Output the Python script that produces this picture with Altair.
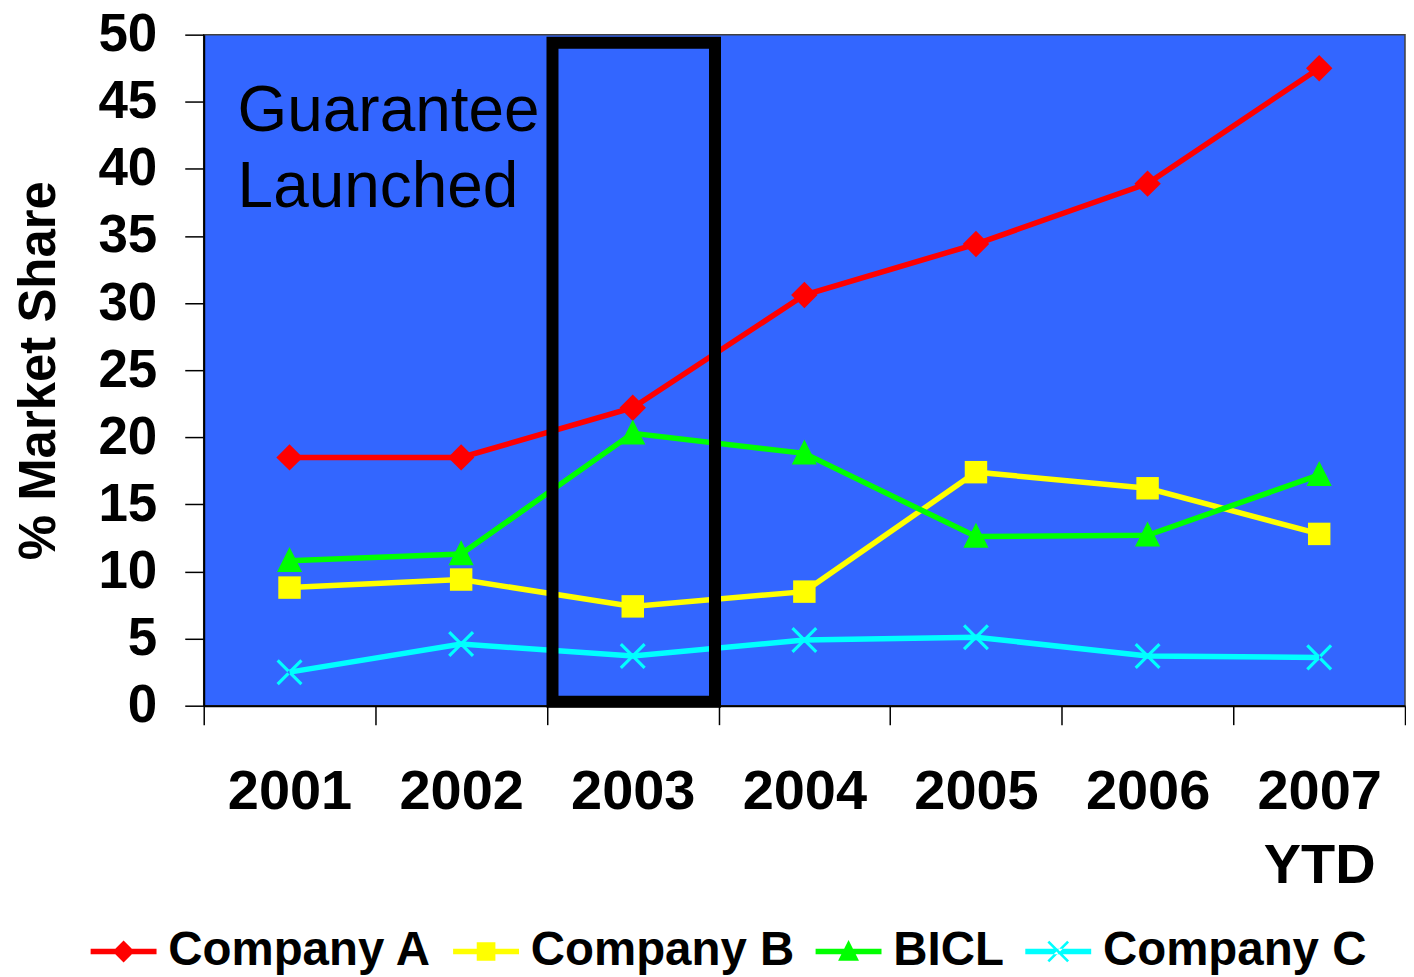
import altair as alt
import pandas as pd

# ---- data ----
years = ["2001", "2002", "2003", "2004", "2005", "2006", "2007 YTD"]
series_names = ["Company A", "Company B", "BICL", "Company C"]
company_a = [18.5, 18.5, 22.2, 30.6, 34.4, 38.9, 47.5]
company_b = [8.8, 9.4, 7.4, 8.5, 17.4, 16.2, 12.8]
bicl = [10.8, 11.3, 20.3, 18.8, 12.6, 12.7, 17.2]
company_c = [2.5, 4.6, 3.7, 4.9, 5.1, 3.7, 3.6]

box_year = ["2003"]
box_top = [49.4]
box_bottom = [0.3]

note_year = ["2001"]
note_value = [42.8]
note_text = ["Guarantee\nLaunched"]

# ---- styles ----
colors = ["#FF0000", "#FFFF00", "#00FF00", "#00FFFF"]
FONT = "Liberation Sans"
BG = "#3366FF"

DIAMOND = "M0,-1L1,0L0,1L-1,0Z"
SQUARE = "M-0.85,-0.85L0.85,-0.85L0.85,0.85L-0.85,0.85Z"
TRIANGLE = "M0,-1.05L0.95,0.85L-0.95,0.85Z"
XMARK = ("M-0.815,-0.985L0.985,0.815L0.815,0.985L-0.985,-0.815Z"
         "M-0.815,0.985L0.985,-0.815L0.815,-0.985L-0.985,0.815Z")
BAR = "M-3,-0.25L3,-0.25L3,0.25L-3,0.25Z"
marker_paths = [DIAMOND, SQUARE, TRIANGLE, XMARK]
legend_paths = [BAR + p for p in marker_paths]

rows = []
for name, vals in zip(series_names, [company_a, company_b, bicl, company_c]):
    for y, v in zip(years, vals):
        rows.append({"year": y, "series": name, "value": v})
df = pd.DataFrame(rows)

box_df = pd.DataFrame({"year": box_year, "top": box_top, "bottom": box_bottom})
note_df = pd.DataFrame({"year": note_year, "value": note_value, "text": note_text})

x_enc = alt.X(
    "year:N",
    sort=years,
    scale=alt.Scale(domain=years, paddingInner=0, paddingOuter=0),
    axis=alt.Axis(
        title=None,
        tickBand="extent",
        tickSize=19,
        tickColor="#000000",
        tickWidth=1.5,
        domainColor="#000000",
        domainWidth=2,
        labelFont=FONT,
        labelFontWeight="bold",
        labelFontSize=56,
        labelColor="#000000",
        labelPadding=40,
        labelLineHeight=74,
        labelAngle=0,
        labelExpr="split(datum.label, ' ')",
        grid=False,
    ),
)
y_enc = alt.Y(
    "value:Q",
    scale=alt.Scale(domain=[0, 50], nice=False),
    axis=alt.Axis(
        title="% Market Share",
        titleFont=FONT,
        titleFontWeight="bold",
        titleFontSize=51,
        titleColor="#000000",
        titlePadding=32,
        values=list(range(0, 51, 5)),
        tickSize=19,
        tickColor="#000000",
        tickWidth=1.5,
        domainColor="#000000",
        domainWidth=2,
        labelFont=FONT,
        labelFontWeight="bold",
        labelFontSize=53,
        labelColor="#000000",
        labelPadding=28,
        grid=False,
    ),
)
x_plain = alt.X("year:N", sort=years)
y_plain = alt.Y("value:Q")

# legend-only layer: keeps no rows, so it draws nothing; the legend
# comes from the explicit scale domains (line + marker symbols)
legend_layer = (
    alt.Chart(df)
    .transform_filter(alt.datum.value < 0)
    .mark_point(filled=True, opacity=1)
    .encode(
        x=x_enc,
        y=y_enc,
        color=alt.Color(
            "series:N",
            scale=alt.Scale(domain=series_names, range=colors),
            sort=series_names,
            legend=alt.Legend(
                title=None,
                orient="none",
                legendX=-104,
                legendY=894,
                direction="horizontal",
                labelFont=FONT,
                labelFontWeight="bold",
                labelFontSize=47.5,
                labelColor="#000000",
                labelLimit=0,
                symbolSize=484,
                labelOffset=21,
                columnPadding=20,
                symbolOpacity=1,
                symbolStrokeWidth=0,
                padding=0,
            ),
        ),
        shape=alt.Shape(
            "series:N",
            scale=alt.Scale(domain=series_names, range=legend_paths),
            sort=series_names,
            legend=alt.Legend(title=None, orient="none", legendX=-104, legendY=894),
        ),
    )
)

line_layers = []
point_layers = []
for name, col, path in zip(series_names, colors, marker_paths):
    sub = alt.Chart(df).transform_filter(alt.datum.series == name)
    line_layers.append(
        sub.mark_line(strokeWidth=5.5, color=col).encode(x=x_plain, y=y_plain)
    )
    point_layers.append(
        sub.mark_point(shape=path, filled=True, size=700, opacity=1,
                       strokeWidth=0, color=col).encode(x=x_plain, y=y_plain)
    )

box = alt.Chart(box_df).mark_rect(
    fillOpacity=0, stroke="#000000", strokeWidth=12,
    width=alt.RelativeBandSize(0.947), xOffset=1
).encode(
    x=x_plain,
    y=alt.Y("top:Q"),
    y2=alt.Y2("bottom:Q"),
)

note = alt.Chart(note_df).mark_text(
    font=FONT, fontSize=64, align="left", baseline="alphabetic",
    lineHeight=76, dx=-52, color="#000000", lineBreak="\n"
).encode(
    x=x_plain,
    y=y_plain,
    text="text:N",
)

chart = alt.layer(legend_layer, *line_layers, *point_layers, box, note).properties(
    width=1203,
    height=672,
    padding={"left": 6, "top": 0, "right": 0, "bottom": 0},
    background="#FFFFFF",
).configure_view(
    fill=BG, stroke="#404040", strokeWidth=1.5
)

chart.save("out.html", embed_options={"renderer": "svg", "actions": False})
